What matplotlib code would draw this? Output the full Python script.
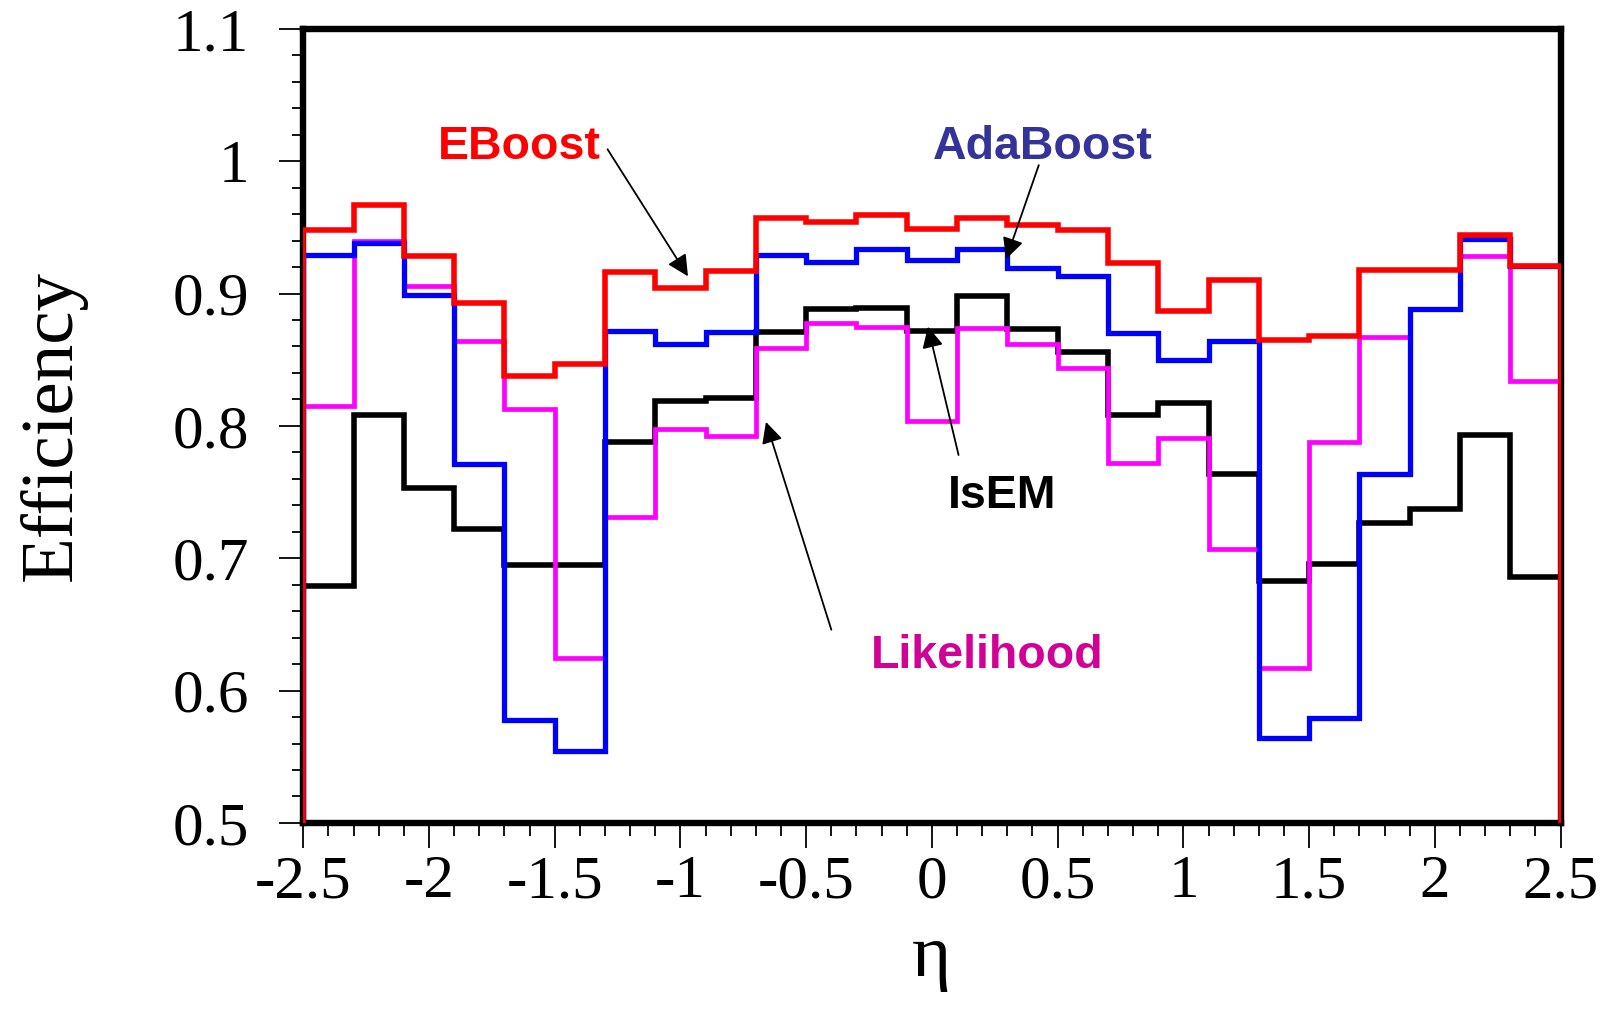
import numpy as np
import matplotlib.pyplot as plt
from matplotlib.ticker import MultipleLocator, FuncFormatter

plt.rcParams['font.family'] = ['Liberation Serif', 'DejaVu Serif']
plt.rcParams['axes.unicode_minus'] = False

# eta bins, 0.2 wide
edges = np.linspace(-2.5, 2.5, 26)

eboost = [0.948, 0.967, 0.928, 0.893, 0.838, 0.847, 0.916, 0.904, 0.917, 0.957,
          0.954, 0.959, 0.949, 0.957, 0.952, 0.948, 0.923, 0.887, 0.910, 0.865,
          0.868, 0.918, 0.918, 0.944, 0.921]
adaboost = [0.929, 0.938, 0.899, 0.771, 0.578, 0.554, 0.872, 0.862, 0.871, 0.929,
            0.924, 0.934, 0.925, 0.934, 0.919, 0.913, 0.870, 0.850, 0.864, 0.564,
            0.579, 0.764, 0.888, 0.941, 0.921]
isem = [0.679, 0.808, 0.753, 0.722, 0.695, 0.695, 0.788, 0.819, 0.821, 0.871,
        0.888, 0.889, 0.872, 0.898, 0.873, 0.856, 0.808, 0.817, 0.764, 0.683,
        0.696, 0.727, 0.737, 0.793, 0.686]
likelihood = [0.815, 0.940, 0.906, 0.864, 0.813, 0.625, 0.731, 0.798, 0.792, 0.859,
              0.878, 0.875, 0.804, 0.874, 0.862, 0.844, 0.772, 0.791, 0.707, 0.617,
              0.788, 0.867, 0.888, 0.928, 0.834]

fig = plt.figure(figsize=(16.13, 10.14), dpi=100)
ax = fig.add_axes([0.188, 0.1884, 0.7795, 0.7832])

# drawing order: black under magenta under blue under red
ax.stairs(isem, edges, baseline=0.5, color='black', lw=4.0, zorder=3)
ax.stairs(likelihood, edges, baseline=0.5, color='#ff00ff', lw=3.4, zorder=3)
ax.stairs(adaboost, edges, baseline=0.5, color='#0000ff', lw=3.8, zorder=3)
ax.stairs(eboost, edges, baseline=0.5, color='#ff0000', lw=4.0, zorder=3)

ax.set_xlim(-2.5, 2.5)
ax.set_ylim(0.5, 1.1)

for s in ax.spines.values():
    s.set_linewidth(4.6)

ax.xaxis.set_major_locator(MultipleLocator(0.5))
ax.xaxis.set_minor_locator(MultipleLocator(0.1))
ax.yaxis.set_major_locator(MultipleLocator(0.1))
ax.yaxis.set_minor_locator(MultipleLocator(0.02))
fmt = FuncFormatter(lambda v, p: '%g' % round(v, 2))
ax.xaxis.set_major_formatter(fmt)
ax.yaxis.set_major_formatter(fmt)

ax.tick_params(axis='both', which='both', direction='out', top=False, right=False,
               labelsize=44, width=1.3)
ax.tick_params(axis='x', which='major', length=18, pad=5)
ax.tick_params(axis='x', which='minor', length=9)
ax.tick_params(axis='y', which='major', length=17, pad=22)
ax.tick_params(axis='y', which='minor', length=8)

ax.set_ylabel('Efficiency', fontsize=54, labelpad=62)
ax.set_xlabel('η', fontsize=54, labelpad=10)

# labels with arrows
sans = ['Liberation Sans', 'DejaVu Sans']
arrow = dict(arrowstyle='-|>', color='black', lw=1.3, mutation_scale=32,
             shrinkA=0, shrinkB=0)

ax.text(-1.64, 1.011, 'EBoost', color='#ff0000', fontsize=33.5, fontweight='bold',
        family=sans, ha='center', va='center')
ax.annotate('', xy=(-0.97, 0.913), xytext=(-1.29, 1.009), arrowprops=arrow)

ax.text(0.44, 1.011, 'AdaBoost', color='#333399', fontsize=33.5, fontweight='bold',
        family=sans, ha='center', va='center')
ax.annotate('', xy=(0.295, 0.926), xytext=(0.425, 0.997), arrowprops=arrow)

ax.text(0.28, 0.747, 'IsEM', color='black', fontsize=33.5, fontweight='bold',
        family=sans, ha='center', va='center')
ax.annotate('', xy=(-0.016, 0.875), xytext=(0.106, 0.778), arrowprops=arrow)

ax.text(0.22, 0.626, 'Likelihood', color='#d10096', fontsize=33.5, fontweight='bold',
        family=sans, ha='center', va='center')
ax.annotate('', xy=(-0.66, 0.803), xytext=(-0.40, 0.646), arrowprops=arrow)

fig.savefig('out.png', dpi=100)
